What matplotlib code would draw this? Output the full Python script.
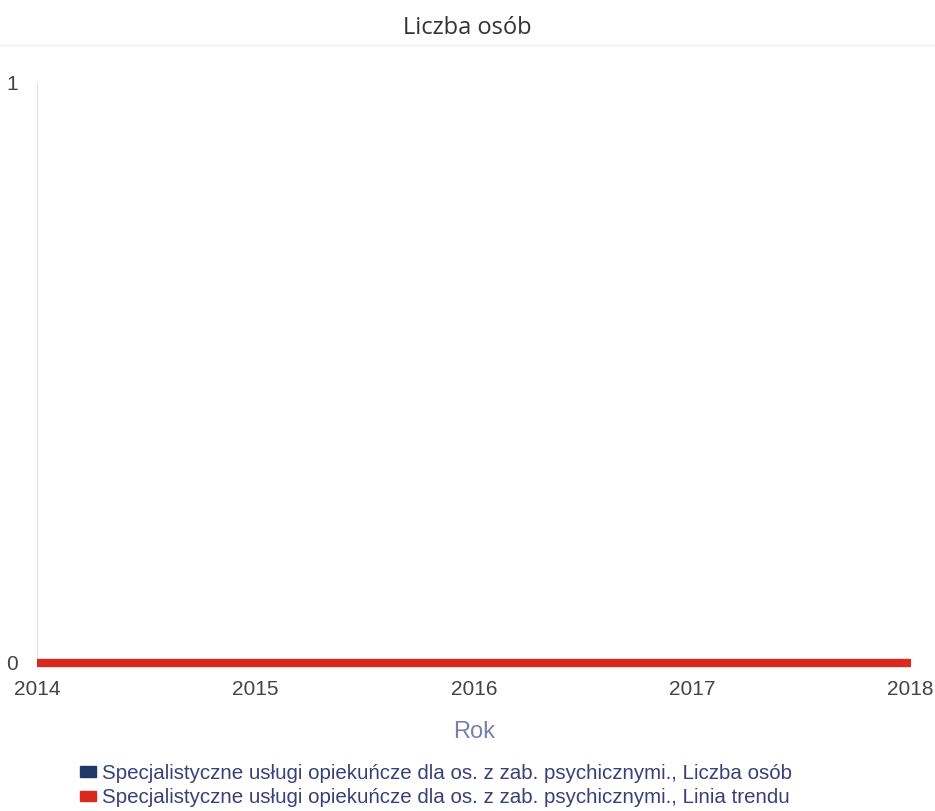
import matplotlib
matplotlib.use("Agg")
import matplotlib.pyplot as plt
from matplotlib.patches import Patch

years = [2014, 2015, 2016, 2017, 2018]
liczba_osob = [0, 0, 0, 0, 0]
linia_trendu = [0, 0, 0, 0, 0]
y_ticks = [0, 1]
label_a = "Specjalistyczne usługi opiekuńcze dla os. z zab. psychicznymi., Liczba osób"
label_b = "Specjalistyczne usługi opiekuńcze dla os. z zab. psychicznymi., Linia trendu"

plt.rcParams['font.family'] = ['Liberation Sans', 'DejaVu Sans']

fig = plt.figure(figsize=(9.35, 8.11), dpi=100)
ax = fig.add_axes([0.0396, 0.1825, 0.9344, 0.7152])

ax.plot(years, liczba_osob, color='#1f3864', lw=4, solid_capstyle='butt', zorder=2, clip_on=False)
ax.plot(years, linia_trendu, color='#d9281e', lw=6, solid_capstyle='butt', zorder=3, clip_on=False)

ax.set_xlim(2014, 2018)
ax.set_ylim(0, 1)
ax.set_xticks(years)
ax.set_xticklabels([str(y) for y in years])
ax.set_yticks(y_ticks)
for s in ['top', 'right', 'bottom']:
    ax.spines[s].set_visible(False)
ax.spines['left'].set_color('#e0e0e0')
ax.tick_params(length=0, labelsize=15, colors='#444444')
ax.tick_params(axis='x', pad=12)
ax.tick_params(axis='y', pad=14)
ax.set_xlabel('Rok', fontsize=17, color='#7b7fae', labelpad=16)

fig.text(0.5, 0.966, 'Liczba osób', ha='center', va='center', fontsize=17,
         color='#333333', family=['Open Sans', 'DejaVu Sans'])
fig.add_artist(plt.Line2D([0.0, 1.0], [0.944, 0.944], transform=fig.transFigure,
                          color='#f2f2f2', lw=1))

handles = [Patch(color='#1f3864'), Patch(color='#d9281e')]
fig.legend(handles, [label_a, label_b], loc='lower left', bbox_to_anchor=(0.066, -0.018),
           frameon=False, fontsize=14.8, handlelength=0.75, handleheight=0.4,
           handletextpad=0.3, labelspacing=0.25, labelcolor='#3a3f78')

fig.savefig('out.png', dpi=100)
